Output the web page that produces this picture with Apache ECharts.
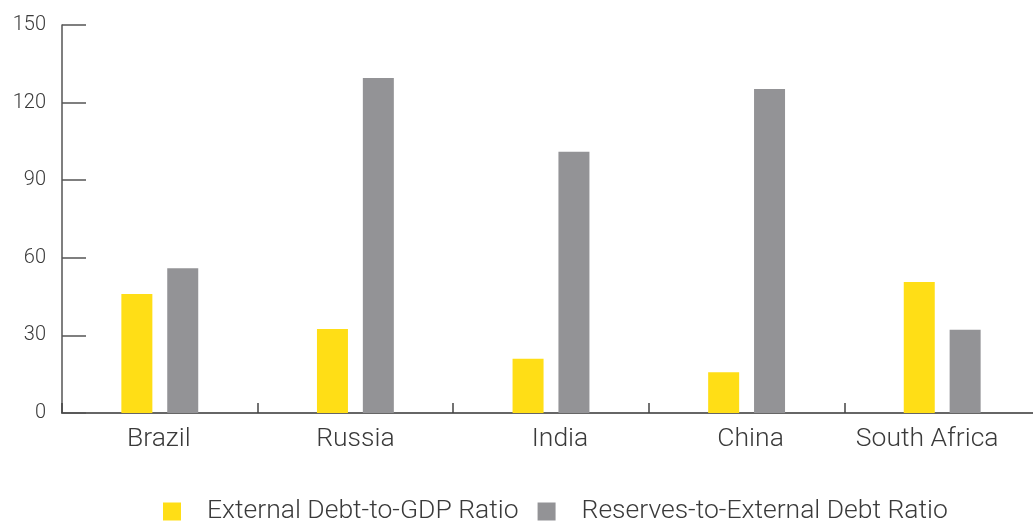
<!DOCTYPE html>
<html><head><meta charset="utf-8">
<script src="https://cdn.jsdelivr.net/npm/echarts@6/dist/echarts.min.js"></script>
<style>html,body{margin:0;padding:0;background:#fff;overflow:hidden}#c{width:1050px;height:522px}</style>
</head><body><div id="c"></div>
<script>
const categories = ['Brazil', 'Russia', 'India', 'China', 'South Africa'];
const seriesNames = ['External Debt-to-GDP Ratio', 'Reserves-to-External Debt Ratio'];
const debtToGdp = [46, 32.5, 21, 15.8, 50.6];
const reservesToDebt = [56, 129.5, 101, 125.3, 32.2];
const yTicks = [0, 30, 60, 90, 120, 150];

const labelShift = [-2, 0, 18, 8, -30];
const rich = {};
labelShift.forEach((s, i) => {
  rich['s' + i] = { fontFamily: 'Roboto', fontWeight: 300, fontSize: 26.5, color: '#3a3a3a',
    padding: s >= 0 ? [0, 0, 0, s] : [0, -s, 0, 0] };
});

const chart = echarts.init(document.getElementById('c'), null, { renderer: 'canvas' });
chart.setOption({
  animation: false,
  textStyle: { fontFamily: 'Roboto' },
  grid: { left: 62, top: 25, width: 978, height: 388, containLabel: false },
  legend: {
    data: seriesNames, left: 163, top: 498, padding: 0, itemWidth: 18, itemHeight: 18, itemGap: 19,
    icon: 'rect',
    textStyle: { fontFamily: 'Roboto', fontWeight: 300, fontSize: 26.5, color: '#3a3a3a', padding: [0, 0, 0, 21] }
  },
  xAxis: {
    type: 'category', data: categories,
    axisLine: { lineStyle: { color: '#666', width: 2 } },
    axisTick: { show: true, inside: true, length: 10, lineStyle: { color: '#444', width: 1.5 } },
    axisLabel: { margin: 13, formatter: (v, i) => '{s' + i + '|' + v + '}', rich: rich }
  },
  yAxis: {
    type: 'value', min: 0, max: 150, interval: 30,
    axisLine: { show: true, lineStyle: { color: '#555', width: 1.5 } },
    axisTick: { show: true, inside: true, length: 24, lineStyle: { color: '#555', width: 1.5 } },
    splitLine: { show: false },
    axisLabel: { margin: 16, fontFamily: 'Roboto', fontWeight: 300, fontSize: 20, color: '#3a3a3a',
      formatter: v => yTicks.includes(v) ? String(v) : '' }
  },
  series: [
    { name: seriesNames[0], type: 'bar', data: debtToGdp, barWidth: 31, barGap: '48%',
      itemStyle: { color: '#FFDE16' } },
    { name: seriesNames[1], type: 'bar', data: reservesToDebt, barWidth: 31,
      itemStyle: { color: '#939396' } }
  ]
});
</script></body></html>
